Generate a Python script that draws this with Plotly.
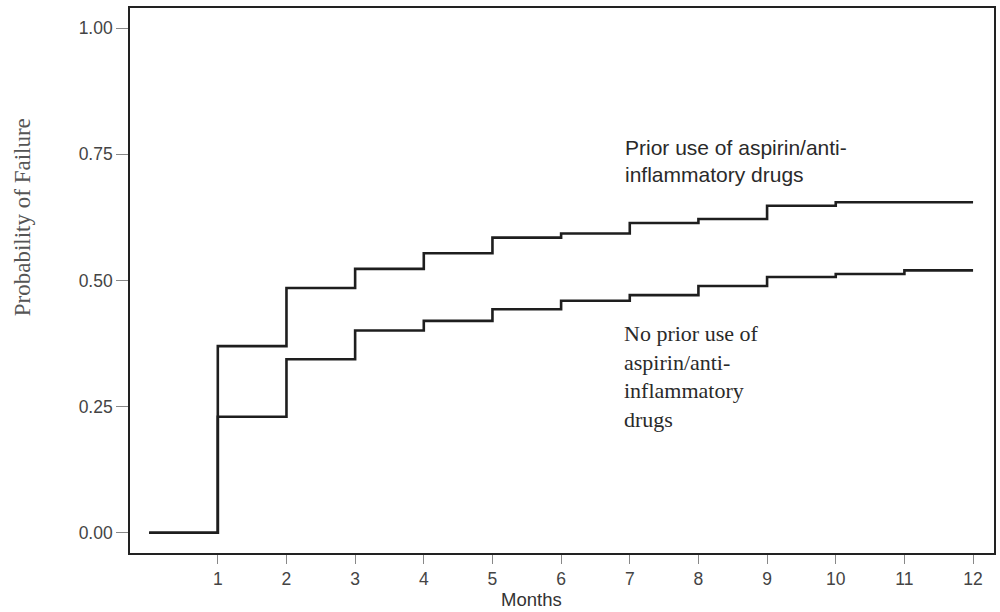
import plotly.graph_objects as go

# Cumulative probability of failure by month, two patient groups
months = [0, 1, 2, 3, 4, 5, 6, 7, 8, 9, 10, 11, 12]
prior_use = [0.0, 0.370, 0.485, 0.523, 0.554, 0.585, 0.593, 0.614, 0.622, 0.648, 0.655, 0.655, 0.655]
no_prior_use = [0.0, 0.230, 0.344, 0.401, 0.420, 0.443, 0.460, 0.471, 0.489, 0.507, 0.513, 0.520, 0.520]

x_ticks = [1, 2, 3, 4, 5, 6, 7, 8, 9, 10, 11, 12]
y_ticks = [0.0, 0.25, 0.5, 0.75, 1.0]
y_tick_text = ["0.00", "0.25", "0.50", "0.75", "1.00"]

SANS = "Liberation Sans, Arial, sans-serif"
SERIF = "Liberation Serif, Times New Roman, serif"

line_style = dict(color="#1e1e1e", width=2.6, shape="hv")

fig = go.Figure()
fig.add_trace(go.Scatter(x=months, y=prior_use, mode="lines", line=line_style,
                         name="Prior use", showlegend=False))
fig.add_trace(go.Scatter(x=months, y=no_prior_use, mode="lines", line=line_style,
                         name="No prior use", showlegend=False))

# Group labels
fig.add_annotation(
    x=6.90, y=0.737, xref="x", yref="y", xanchor="left", yanchor="middle",
    text="Prior use of aspirin/anti-<br>inflammatory drugs",
    showarrow=False, align="left",
    font=dict(family=SANS, size=21, color="#2a2a2a"),
)
fig.add_annotation(
    x=6.88, y=0.310, xref="x", yref="y", xanchor="left", yanchor="middle",
    text="No prior use of<br>aspirin/anti-<br>inflammatory<br>drugs",
    showarrow=False, align="left",
    font=dict(family=SERIF, size=22, color="#2a2a2a"),
)

# Axis titles
fig.add_annotation(
    x=23, y=612 - 217, xref="paper", yref="paper", showarrow=False,
    text="Probability of Failure", textangle=-90,
    xanchor="center", yanchor="middle",
    font=dict(family=SERIF, size=23, color="#555555"),
)
fig.add_annotation(
    x=532, y=612 - 599, xref="paper", yref="paper", showarrow=False,
    text="Months", xanchor="center", yanchor="middle",
    font=dict(family=SANS, size=18.5, color="#333333"),
)

fig.update_layout(
    width=1000, height=612,
    margin=dict(l=130, r=4, t=8, b=59),
    paper_bgcolor="white", plot_bgcolor="white",
    font=dict(family=SANS, size=17, color="#444444"),
)

# Axis-title annotations are positioned in pixels: convert to paper fractions
plot_w = 1000 - 130 - 4
plot_h = 612 - 8 - 59
for ann in fig.layout.annotations:
    if ann.xref == "paper":
        ann.x = (ann.x - 130) / plot_w
        ann.y = (ann.y - 59) / plot_h

fig.update_xaxes(
    range=[-0.279, 12.305], tickvals=x_ticks,
    showgrid=False, zeroline=False,
    showline=True, linecolor="#222222", linewidth=1.6, mirror=True,
    ticks="outside", ticklen=9, tickcolor="#888888", tickwidth=1,
    tickfont=dict(family=SANS, size=17.5, color="#444444"),
)
fig.update_yaxes(
    range=[-0.04, 1.04], tickvals=y_ticks, ticktext=y_tick_text,
    showgrid=False, zeroline=False,
    showline=True, linecolor="#222222", linewidth=1.6, mirror=True,
    ticks="outside", ticklen=12, tickcolor="#888888", tickwidth=1,
    tickfont=dict(family=SANS, size=17.5, color="#444444"),
)

fig.write_html("out.html")
